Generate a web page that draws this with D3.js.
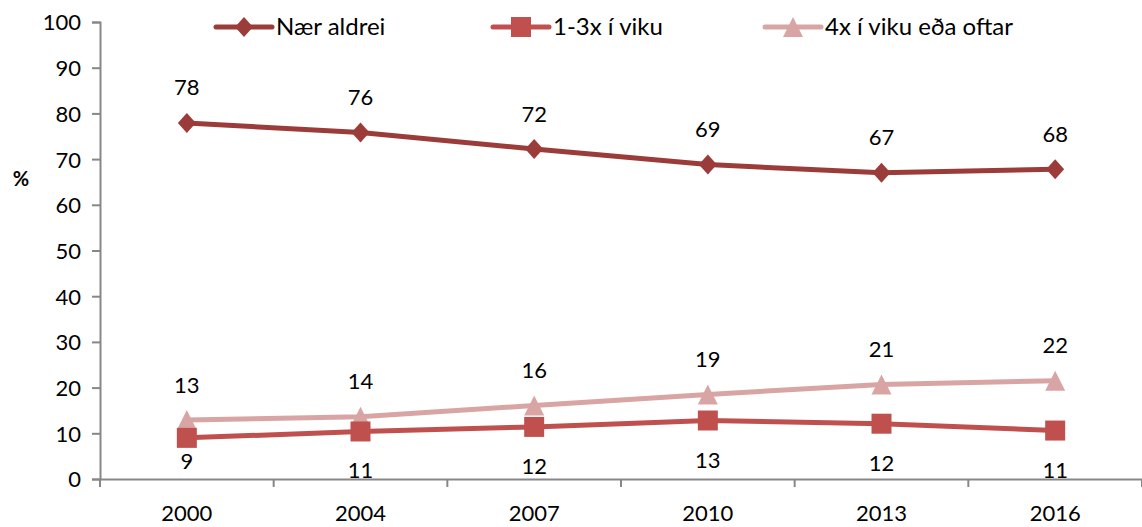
<!DOCTYPE html>
<html><head><meta charset="utf-8">
<script src="https://cdn.jsdelivr.net/npm/d3@7"></script>
<style>body{margin:0;background:#fff}text{font-family:Lato,"Open Sans",sans-serif}</style>
</head><body><svg id="c" width="1142" height="527"></svg>
<script>
const years = ["2000","2004","2007","2010","2013","2016"];
const seriesNames = ["Nær aldrei","1-3x í viku","4x í viku eða oftar"];
const naerAldrei = [77.9, 75.8, 72.2, 68.8, 67.0, 67.8];
const einn3x = [9.0, 10.4, 11.4, 12.8, 12.1, 10.6];
const fjorum = [12.9, 13.6, 16.1, 18.5, 20.7, 21.5];
const labelsNaer = [78, 76, 72, 69, 67, 68];
const labels13 = [9, 11, 12, 13, 12, 11];
const labels4 = [13, 14, 16, 19, 21, 22];
const yTicks = [0,10,20,30,40,50,60,70,80,90,100];

const svg = d3.select("#c");
const x = d3.scaleBand().domain(years).range([100, 1142]);
const y = d3.scaleLinear().domain([0,100]).range([479, 22]);
const axisColor = "#878787";
const FS = 22;

// Y axis
const yAxis = svg.append("g").attr("transform","translate(100,0)")
  .call(d3.axisLeft(y).tickValues(yTicks).tickSize(8).tickPadding(11));
yAxis.select(".domain").attr("stroke", axisColor).attr("stroke-width", 2);
yAxis.selectAll("line").attr("stroke", axisColor).attr("stroke-width", 2);
yAxis.selectAll("text").attr("fill","#000").style("font-size", FS+"px")
  .style("font-family","Lato, 'Open Sans', sans-serif").attr("dy","0.36em");

// X axis
const xAxis = svg.append("g").attr("transform","translate(0,479)")
  .call(d3.axisBottom(x).tickSize(0).tickFormat(""));
xAxis.select(".domain").attr("stroke", axisColor).attr("stroke-width", 2);
const bounds = years.map(d => x(d)).concat([x.range()[1]]);
svg.append("g").selectAll("line").data(bounds).join("line")
  .attr("x1", d => d).attr("x2", d => d).attr("y1", 479).attr("y2", 487)
  .attr("stroke", axisColor).attr("stroke-width", 2);
svg.append("g").selectAll("text").data(years).join("text")
  .attr("x", d => x(d) + x.bandwidth()/2).attr("y", 521)
  .attr("text-anchor","middle").style("font-size", FS+"px").attr("fill","#000").text(d => d);

svg.append("text").attr("x", 21).attr("y", 186).attr("text-anchor","middle")
  .style("font-size","20px").style("font-weight","bold").text("%");

const cx = d => x(d) + x.bandwidth()/2;
const diamond = "M0,-10L9,0L0,10L-9,0Z";
const square = "M-10,-10H10V10H-10Z";
const triangle = "M0,-10L10,10H-10Z";
const series = [
  {name: seriesNames[0], vals: naerAldrei, labels: labelsNaer, color: "#9C3C3A", shape: diamond, pos: "above"},
  {name: seriesNames[1], vals: einn3x, labels: labels13, color: "#C0504D", shape: square, pos: "below"},
  {name: seriesNames[2], vals: fjorum, labels: labels4, color: "#D9A5A4", shape: triangle, pos: "above"}
];
[2,1,0].forEach(i => {
  const s = series[i];
  const line = d3.line().x((d,j) => cx(years[j])).y(d => y(d));
  svg.append("path").attr("d", line(s.vals)).attr("fill","none")
    .attr("stroke", s.color).attr("stroke-width", 5).attr("stroke-linejoin","round");
  svg.append("g").selectAll("path").data(s.vals).join("path")
    .attr("transform", (d,j) => `translate(${cx(years[j])},${y(d)})`)
    .attr("d", s.shape).attr("fill", s.color);
  svg.append("g").selectAll("text").data(s.labels).join("text")
    .attr("x", (d,j) => cx(years[j]))
    .attr("y", (d,j) => {
      const py = y(s.vals[j]);
      if (s.pos === "above") return py - 35.5 + 8;
      return (j === 0 ? py + 23 : py + 39) + 8;
    })
    .attr("text-anchor","middle").style("font-size", FS+"px").attr("fill","#000").text(d => d);
});

// legend
const legendX = [216, 493, 765];
series.forEach((s, i) => {
  const g = svg.append("g").attr("transform", `translate(${legendX[i]},27)`);
  g.append("line").attr("x1",0).attr("x2",56).attr("stroke", s.color).attr("stroke-width",5).attr("stroke-linecap","round");
  g.append("path").attr("transform", "translate(28,0)").attr("d", s.shape).attr("fill", s.color);
  g.append("text").attr("x", 60).attr("y", 8).style("font-size","24px").attr("fill","#000").text(s.name);
});
</script></body></html>
